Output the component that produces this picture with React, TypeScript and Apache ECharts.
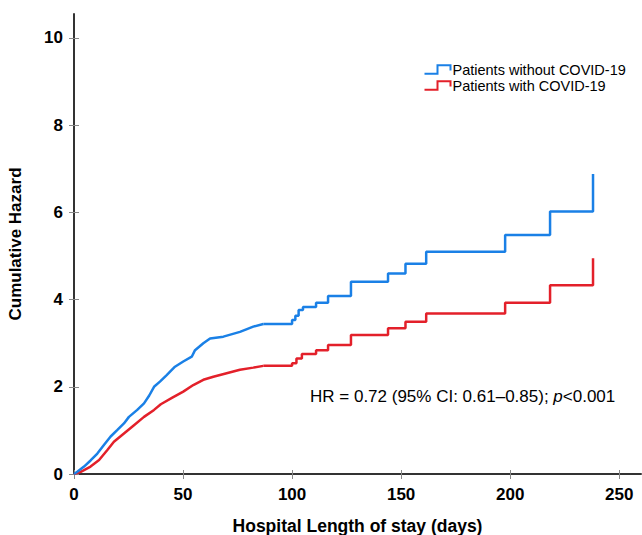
import React, { useEffect, useRef } from "react";
import * as echarts from "echarts";

const xTicks = [0, 50, 100, 150, 200, 250];
const yTicks = [0, 2, 4, 6, 8, 10];

// [day, cumulative hazard] — early, densely stepped part (drawn as a fine line)
const withoutCovidEarly: [number, number][] = [
  [0, 0], [1.5, 0.05], [4.6, 0.17], [7.6, 0.31], [10.7, 0.47], [13.8, 0.67], [16.8, 0.86],
  [19.9, 1.01], [22.9, 1.16], [25.2, 1.31], [29, 1.47], [32.1, 1.62], [34.5, 1.8], [36.7, 2.0],
  [39.4, 2.12], [42.5, 2.27], [46.3, 2.46], [50.1, 2.58], [54, 2.69], [55.5, 2.84], [59.3, 3.0],
  [62.4, 3.11], [68.5, 3.15], [76.1, 3.26], [82.2, 3.38], [86.8, 3.44],
];
// later, sparse steps
const withoutCovidLate: [number, number][] = [
  [86.8, 3.44], [100, 3.53], [101.5, 3.63], [103, 3.76], [105, 3.83], [111, 3.93], [116.5, 4.08],
  [127, 4.41], [144, 4.6], [152, 4.82], [161.5, 5.1], [197.7, 5.48], [218.3, 6.02], [238, 6.02],
  [238, 6.88],
];

const withCovidEarly: [number, number][] = [
  [0, 0], [3.1, 0.05], [7.6, 0.17], [11.5, 0.32], [15.3, 0.55], [18.3, 0.74], [22.9, 0.93],
  [27.5, 1.12], [32.1, 1.31], [36.7, 1.47], [39.8, 1.6], [45.1, 1.75], [50.1, 1.89], [54.7, 2.04],
  [59.3, 2.16], [63.9, 2.23], [70, 2.31], [76.1, 2.39], [82.2, 2.44], [86.8, 2.48],
];
const withCovidLate: [number, number][] = [
  [86.8, 2.48], [100, 2.54], [102, 2.65], [104.5, 2.75], [111, 2.84], [116.5, 2.96], [127, 3.19],
  [144, 3.34], [152, 3.49], [161.5, 3.68], [197.7, 3.93], [218.3, 4.33], [238, 4.33], [238, 4.95],
];

const seriesNames = ["Patients without COVID-19", "Patients with COVID-19"];
const seriesColors = ["#1a80e6", "#e3202a"];
const hrText = ["HR = 0.72 (95% CI: 0.61–0.85); ", "p", "<0.001"];

const FONT = 'Arial, "Liberation Sans", Helvetica, sans-serif';
const stepIcon = "path://M0,10 L12,10 L12,2 L24,2 L24,7";

function curve(name: string, color: string, data: [number, number][], step: false | "end", z: number) {
  return {
    name,
    type: "line",
    step,
    data,
    showSymbol: false,
    symbol: "none",
    lineStyle: { color, width: 2.5 },
    itemStyle: { color },
    z,
  };
}

export default function App() {
  const ref = useRef<HTMLDivElement>(null);
  useEffect(() => {
    if (!ref.current) return;
    const chart = echarts.init(ref.current, null, { renderer: "svg" });
    chart.setOption({
      animation: false,
      backgroundColor: "#ffffff",
      textStyle: { fontFamily: FONT },
      grid: { left: 74, right: 1, top: 14, bottom: 61, containLabel: false, outerBoundsMode: "none" },
      legend: {
        left: 417,
        top: 57,
        orient: "vertical",
        itemGap: 1,
        itemWidth: 26,
        itemHeight: 12,
        textStyle: { fontFamily: FONT, fontSize: 14.5, color: "#000", padding: [0, 0, 0, -3] },
        data: seriesNames.map((n, i) => ({
          name: n,
          icon: stepIcon,
          itemStyle: { color: "none", borderColor: seriesColors[i], borderWidth: 2 },
        })),
      },
      xAxis: [
        {
          type: "value",
          min: 0,
          max: 260,
          interval: 50,
          name: "Hospital Length of stay (days)",
          nameLocation: "middle",
          nameGap: 43,
          nameTextStyle: { fontFamily: FONT, fontSize: 17.5, fontWeight: "bold", color: "#000" },
          axisLine: { show: true, onZero: false, lineStyle: { color: "#333", width: 2 } },
          axisTick: { show: true, length: 5, customValues: xTicks, lineStyle: { color: "#888", width: 1 } },
          axisLabel: { customValues: xTicks, fontFamily: FONT, fontSize: 17, fontWeight: "bold", color: "#000", margin: 12 },
          splitLine: { show: false },
        },
        {
          type: "value",
          min: 0,
          max: 260,
          position: "bottom",
          axisLine: { show: false },
          axisTick: { show: true, inside: true, length: 4, customValues: xTicks, lineStyle: { color: "#888", width: 1 } },
          axisLabel: { show: false },
          splitLine: { show: false },
        },
      ],
      yAxis: [
        {
          type: "value",
          min: 0,
          max: 10.55,
          name: "Cumulative Hazard",
          nameLocation: "middle",
          nameGap: 50,
          nameTextStyle: { fontFamily: FONT, fontSize: 17, fontWeight: "bold", color: "#000" },
          axisLine: { show: true, onZero: false, lineStyle: { color: "#333", width: 2 } },
          axisTick: { show: true, length: 5, customValues: yTicks, lineStyle: { color: "#888", width: 1 } },
          axisLabel: { customValues: yTicks, fontFamily: FONT, fontSize: 17, fontWeight: "bold", color: "#000", margin: 11 },
          splitLine: { show: false },
        },
        {
          type: "value",
          min: 0,
          max: 10.55,
          position: "left",
          axisLine: { show: false },
          axisTick: { show: true, inside: true, length: 5, customValues: yTicks, lineStyle: { color: "#888", width: 1 } },
          axisLabel: { show: false },
          splitLine: { show: false },
        },
      ],
      series: [
        curve(seriesNames[0], seriesColors[0], withoutCovidEarly, false, 3),
        curve(seriesNames[0], seriesColors[0], withoutCovidLate, "end", 3),
        curve(seriesNames[1], seriesColors[1], withCovidEarly, false, 2),
        curve(seriesNames[1], seriesColors[1], withCovidLate, "end", 2),
      ],
      graphic: [
        {
          type: "text",
          left: 310,
          top: 388,
          style: {
            text: `{a|${hrText[0]}}{b|${hrText[1]}}{a|${hrText[2]}}`,
            rich: {
              a: { fontFamily: FONT, fontSize: 17, color: "#111" },
              b: { fontFamily: FONT, fontSize: 17, fontStyle: "italic", color: "#111" },
            },
          },
        },
      ],
    });
    return () => chart.dispose();
  }, []);
  return (
    <div
      ref={ref}
      style={{ position: "fixed", left: 0, top: 0, width: 642, height: 535 }}
    />
  );
}
